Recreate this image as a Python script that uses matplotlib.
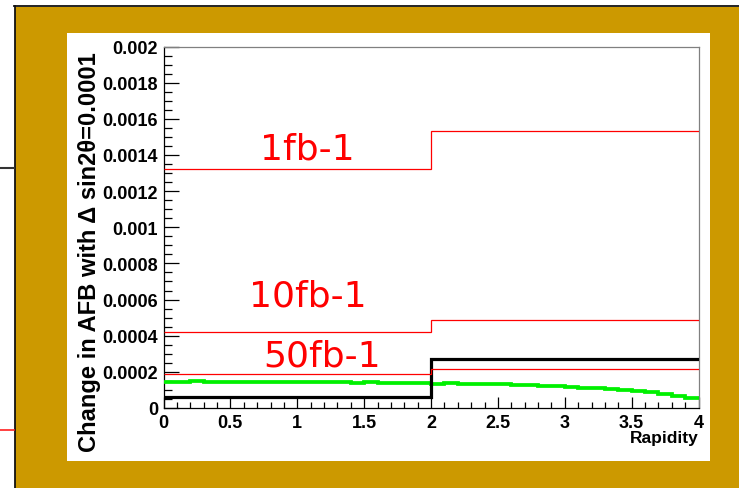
import numpy as np
import matplotlib
matplotlib.use("Agg")
import matplotlib.pyplot as plt
from matplotlib.patches import Rectangle
from matplotlib.lines import Line2D
from matplotlib.ticker import MultipleLocator

# ---- data ----------------------------------------------------------------
coarse_edges = [0.0, 2.0, 4.0]
afb_1fb = [0.001322, 0.001532]
afb_10fb = [0.000419, 0.000486]
afb_50fb = [0.000190, 0.000216]
afb_shift = [0.0000626, 0.000270]

fine_edges = np.linspace(0.0, 4.0, 41)
afb_fine_e4 = [1.46, 1.45, 1.47, 1.45, 1.46, 1.45, 1.44, 1.46, 1.44, 1.44,
               1.43, 1.43, 1.42, 1.43, 1.41, 1.42, 1.41, 1.41, 1.40, 1.38,
               1.35, 1.37, 1.34, 1.33, 1.33, 1.31, 1.29, 1.27, 1.24, 1.21,
               1.16, 1.13, 1.12, 1.05, 0.99, 0.92, 0.86, 0.78, 0.68, 0.57]
afb_fine = np.array(afb_fine_e4) * 1e-4

lumi_labels = ["1fb-1", "10fb-1", "50fb-1"]
lumi_label_x = [1.073, 1.079, 1.189]
lumi_label_y = [0.001383, 0.000565, 0.000233]

x_ticks = [0, 0.5, 1, 1.5, 2, 2.5, 3, 3.5, 4]
x_tick_labels = ["0", "0.5", "1", "1.5", "2", "2.5", "3", "3.5", "4"]
y_ticks = [0, 0.0002, 0.0004, 0.0006, 0.0008, 0.001, 0.0012, 0.0014,
           0.0016, 0.0018, 0.002]
y_tick_labels = ["0", "0.0002", "0.0004", "0.0006", "0.0008", "0.001",
                 "0.0012", "0.0014", "0.0016", "0.0018", "0.002"]

# ---- figure & slide frame -----------------------------------------------
W, H = 739, 489
fig = plt.figure(figsize=(W / 100, H / 100), dpi=100)
fig.patch.set_facecolor("white")


def fx(px):
    return px / W


def fy(py):
    return 1 - py / H


gold = "#cc9900"
fig.add_artist(Rectangle((fx(15), 0), 1 - fx(15), fy(8), transform=fig.transFigure,
                         facecolor=gold, edgecolor="none", zorder=0))
fig.add_artist(Rectangle((fx(66.5), fy(462)), fx(710) - fx(66.5), fy(33.5) - fy(462),
                         transform=fig.transFigure, facecolor="white",
                         edgecolor="none", zorder=0.5))
# slide border lines
fig.add_artist(Line2D([fx(14.5), fx(14.5)], [0, fy(7)], transform=fig.transFigure,
                      color="#111111", lw=1.3, zorder=1))
fig.add_artist(Line2D([fx(14), 1], [fy(7), fy(7)], transform=fig.transFigure,
                      color="#111111", lw=1.3, zorder=1))
fig.add_artist(Line2D([0, fx(14)], [fy(169), fy(169)], transform=fig.transFigure,
                      color="#333333", lw=1.5, zorder=1))
fig.add_artist(Line2D([0, fx(14)], [fy(431), fy(431)], transform=fig.transFigure,
                      color="#ff2020", lw=1.2, zorder=1))

# ---- plot axes -----------------------------------------------------------
ax = fig.add_axes([fx(163.5), fy(409), fx(698.5) - fx(163.5), fy(47.5) - fy(409)])
ax.set_zorder(2)
ax.set_facecolor("white")
ax.set_xlim(0, 4)
ax.set_ylim(0, 0.002)

ax.stairs(afb_fine, fine_edges, baseline=None, color="#00f000", lw=2.7, zorder=3)
ax.stairs(afb_shift, coarse_edges, baseline=None, color="black", lw=2.3, zorder=4)
for vals in (afb_1fb, afb_10fb, afb_50fb):
    ax.stairs(vals, coarse_edges, baseline=None, color="#ff0000", lw=0.9, zorder=5)

for txt, tx, ty in zip(lumi_labels, lumi_label_x, lumi_label_y):
    ax.text(tx, ty, txt, color="#ff0000", fontsize=26, ha="center", va="baseline",
            family="DejaVu Sans", zorder=6)

for side in ("top", "right"):
    ax.spines[side].set_color("#808080")
    ax.spines[side].set_linewidth(0.9)
for side in ("left", "bottom"):
    ax.spines[side].set_color("black")
    ax.spines[side].set_linewidth(0.9)

ax.set_xticks(x_ticks)
ax.set_xticklabels(x_tick_labels)
ax.set_yticks(y_ticks)
ax.set_yticklabels(y_tick_labels)
ax.xaxis.set_minor_locator(MultipleLocator(0.1))
ax.yaxis.set_minor_locator(MultipleLocator(0.00005))
ax.tick_params(axis="both", which="both", direction="in", top=False, right=False,
               width=0.9, color="black")
ax.tick_params(axis="y", which="major", length=11, pad=4)
ax.tick_params(axis="y", which="minor", length=6)
ax.tick_params(axis="x", which="major", length=8, pad=4)
ax.tick_params(axis="x", which="minor", length=4.5)
for lab in ax.get_xticklabels() + ax.get_yticklabels():
    lab.set_family("Liberation Sans")
    lab.set_fontweight("bold")
    lab.set_fontsize(13)

fig.text(fx(698.5), fy(438), "Rapidity", ha="right", va="center",
         family="Liberation Sans", fontweight="bold", fontsize=12.5)
fig.text(fx(90), fy(252), "Change in AFB with \u0394 sin2\u03b8=0.0001", rotation=90,
         ha="center", va="center", family="Liberation Sans", fontweight="bold",
         fontsize=17.1)

fig.savefig("out.png", dpi=100, facecolor=fig.get_facecolor())
